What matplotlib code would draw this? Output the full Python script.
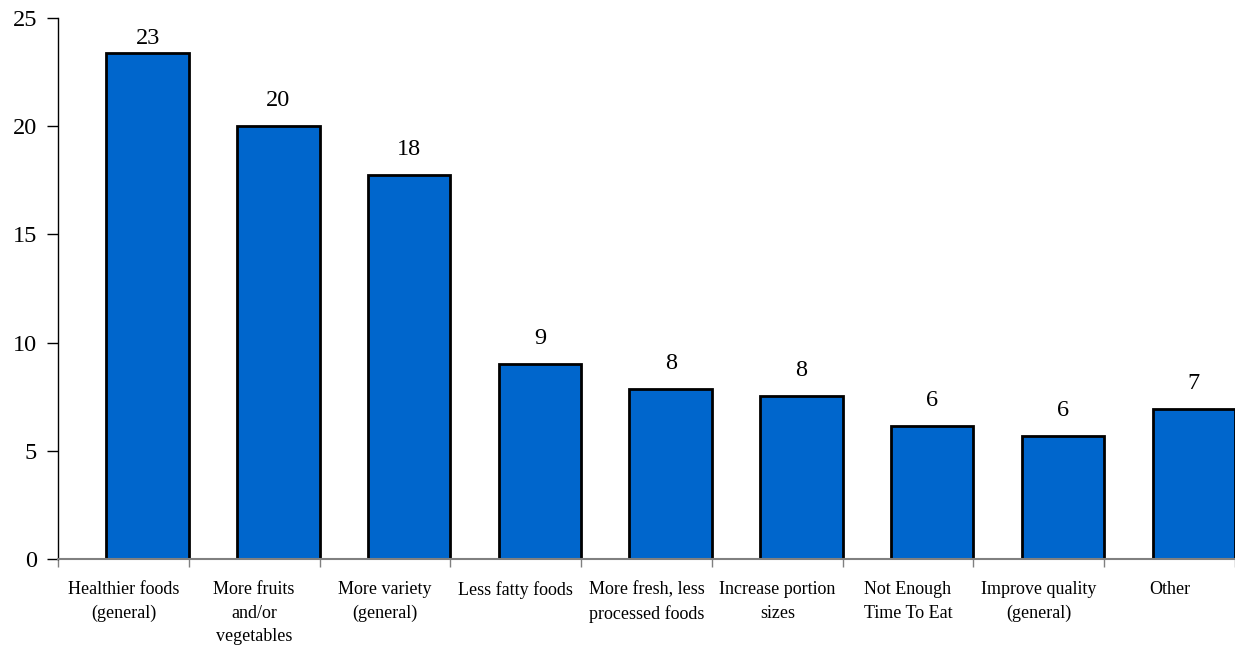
import numpy as np
import matplotlib.pyplot as plt

categories = [
    "Healthier foods\n(general)",
    "More fruits\nand/or\nvegetables",
    "More variety\n(general)",
    "Less fatty foods",
    "More fresh, less\nprocessed foods",
    "Increase portion\nsizes",
    "Not Enough\nTime To Eat",
    "Improve quality\n(general)",
    "Other",
]
values = [23.4, 20.0, 17.75, 9.0, 7.85, 7.55, 6.15, 5.7, 6.95]

plt.rcParams['font.family'] = ['Liberation Serif', 'DejaVu Serif']

fig = plt.figure(figsize=(12.35, 6.47), dpi=100)
ax = fig.add_axes([58 / 1235, 88 / 647, 1 - 58 / 1235, (559 - 18) / 647])

x = np.arange(len(categories))
bar_w = 0.63
# bars sit against the right edge of each category slot
ax.bar(x + 0.5 - bar_w / 2, values, width=bar_w, color="#0066CC",
       edgecolor="black", linewidth=2)

for xi, v in zip(x, values):
    ax.text(xi + 0.5 - bar_w / 2, min(v + 0.69, 23.55), f"{v:.0f}",
            ha="center", va="bottom", fontsize=17.5)

ax.set_xlim(-0.5, len(categories) - 0.5)
ax.set_ylim(0, 25)
ax.set_yticks(range(0, 26, 5))
ax.tick_params(axis="y", labelsize=17.5, length=8, width=1, direction="out", pad=7)

# category labels at the slot centres, tick marks at slot boundaries
ax.set_xticks(x)
ax.set_xticklabels(categories, fontsize=13, linespacing=1.5)
ax.tick_params(axis="x", which="major", length=0, pad=16)
ax.set_xticks(np.arange(len(categories) + 1) - 0.5, minor=True)
ax.tick_params(axis="x", which="minor", length=6, width=1, color="#808080",
               direction="out")

for s in ["top", "right"]:
    ax.spines[s].set_visible(False)
ax.spines["left"].set_linewidth(1)
ax.spines["bottom"].set_color("#808080")
ax.spines["bottom"].set_linewidth(1.5)

fig.savefig("out.png", dpi=100)
